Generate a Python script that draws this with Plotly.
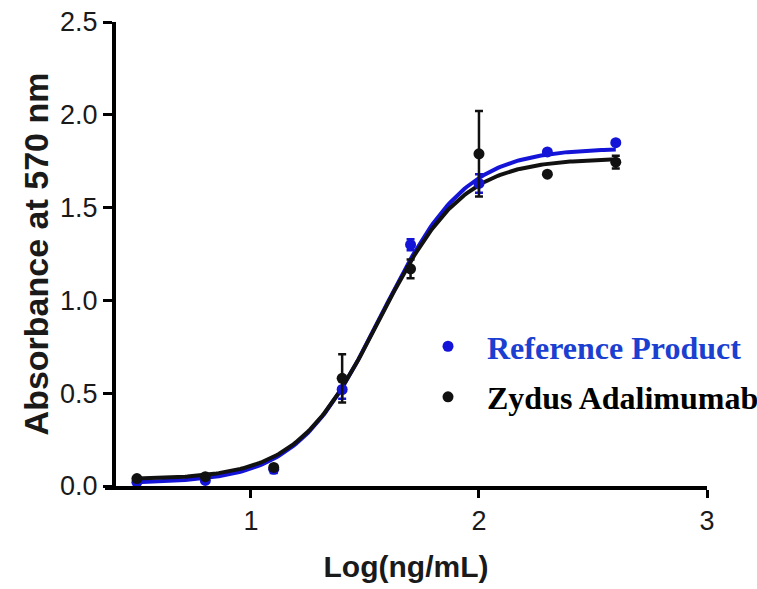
import plotly.graph_objects as go
import numpy as np

# Data
log_conc = [0.5, 0.8, 1.1, 1.4, 1.7, 2.0, 2.3, 2.6]
ref_y = [0.02, 0.03, 0.09, 0.52, 1.30, 1.63, 1.80, 1.85]
ref_err = [0.01, 0.01, 0.02, 0.05, 0.03, 0.05, 0.01, 0.01]
zyd_y = [0.04, 0.05, 0.10, 0.58, 1.17, 1.79, 1.68, 1.745]
zyd_err = [0.01, 0.01, 0.01, 0.13, 0.05, 0.23, 0.01, 0.035]

# 4-parameter logistic fit parameters (bottom, top, logEC50, hill)
ref_fit = dict(bottom=0.015, top=1.82, logec50=1.57, hill=2.35)
zyd_fit = dict(bottom=0.035, top=1.765, logec50=1.565, hill=2.4)

x_ticks = [1, 2, 3]
y_ticks = [0.0, 0.5, 1.0, 1.5, 2.0, 2.5]

BLUE = "#1414d8"
BLUE_TXT = "#1b3fd1"
BLACK = "#111111"


def fourpl(x, p):
    x = np.asarray(x)
    return p["bottom"] + (p["top"] - p["bottom"]) / (1 + 10 ** ((p["logec50"] - x) * p["hill"]))


xs = np.linspace(min(log_conc), max(log_conc), 200)

fig = go.Figure()
fig.add_trace(go.Scatter(x=xs, y=fourpl(xs, ref_fit), mode="lines",
                         line=dict(color=BLUE, width=4), showlegend=False, hoverinfo="skip"))
fig.add_trace(go.Scatter(x=xs, y=fourpl(xs, zyd_fit), mode="lines",
                         line=dict(color=BLACK, width=4), showlegend=False, hoverinfo="skip"))
fig.add_trace(go.Scatter(x=log_conc, y=ref_y, mode="markers",
                         marker=dict(color=BLUE, size=11),
                         error_y=dict(type="data", array=ref_err, color=BLUE, thickness=2.5, width=4),
                         name="<b><span style='color:%s'>Reference Product</span></b>" % BLUE_TXT,
                         legendgroup="a", cliponaxis=False))
fig.add_trace(go.Scatter(x=log_conc, y=zyd_y, mode="markers",
                         marker=dict(color=BLACK, size=11),
                         error_y=dict(type="data", array=zyd_err, color=BLACK, thickness=2.5, width=4),
                         name="<b>Zydus Adalimumab</b>",
                         legendgroup="b", cliponaxis=False))

L, R, T, B = 105, 50, 22, 103
W, H = 757, 589
ypos = (114 - L) / (W - L - R)

tick_font = dict(family="Liberation Sans, Arial", size=27, color="#1a1a1a")
fig.update_layout(
    width=W, height=H,
    margin=dict(l=L, r=R, t=T, b=B, autoexpand=False),
    paper_bgcolor="white", plot_bgcolor="white",
    showlegend=True,
    legend=dict(x=0.505, y=0.36, xanchor="left", yanchor="top",
                font=dict(family="Liberation Serif, Times New Roman", size=32, color="black"),
                tracegroupgap=6, bgcolor="rgba(0,0,0,0)", itemwidth=68),
    xaxis=dict(range=[0.36, 3.0], tickvals=x_ticks, ticktext=[str(v) for v in x_ticks],
               showline=True, linecolor="black", linewidth=4, ticks="outside",
               ticklen=8, tickwidth=3, tickcolor="black", showgrid=False, zeroline=False,
               tickfont=tick_font,
               title=dict(text="<b>Log(ng/mL)</b>", font=dict(family="Liberation Sans, Arial", size=30, color="#1a1a1a"),
                          standoff=22)),
    yaxis=dict(range=[0, 2.5], tickvals=y_ticks, ticktext=["%.1f" % v for v in y_ticks],
               anchor="free", position=ypos,
               showline=True, linecolor="black", linewidth=4, ticks="outside",
               ticklen=9, tickwidth=3, tickcolor="black", showgrid=False, zeroline=False,
               tickfont=tick_font,
               title=dict(text="<b>Absorbance at 570 nm</b>", font=dict(family="Liberation Sans, Arial", size=34, color="#1a1a1a"),
                          standoff=0)),
)

fig.write_html("out.html")
